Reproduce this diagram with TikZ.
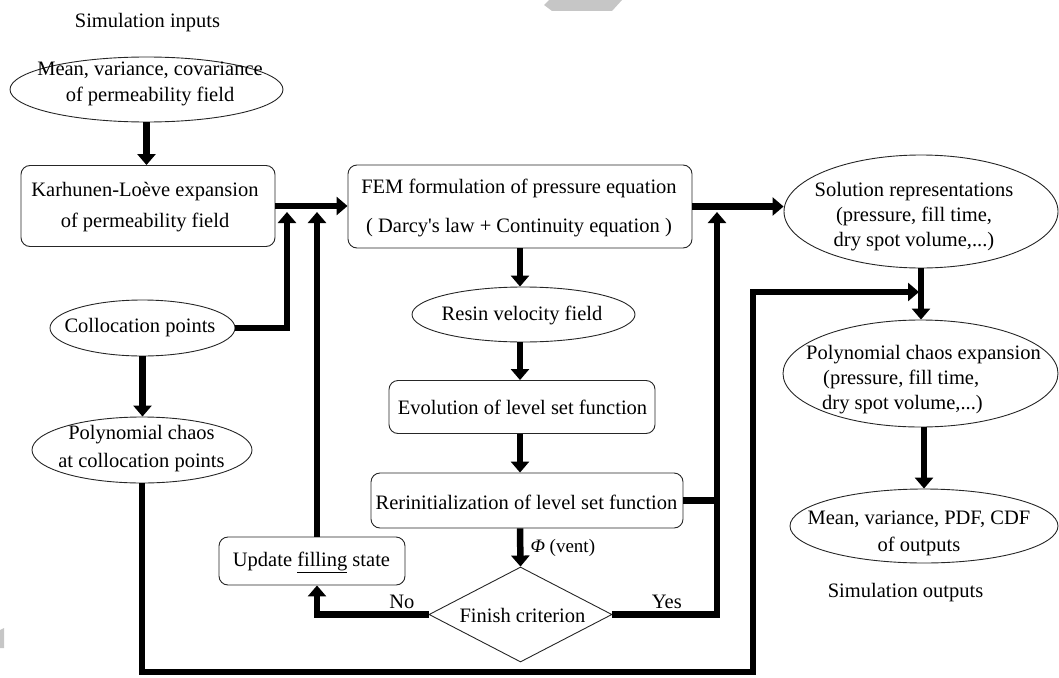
\documentclass[tikz,border=0pt]{standalone}
\usepackage{fontspec}
\setmainfont{Liberation Serif}
\usetikzlibrary{shapes.geometric,arrows.meta}
\begin{document}
\begin{tikzpicture}[x=1pt,y=-1pt,
  every node/.style={font=\fontsize{20.5}{25}\selectfont, inner sep=0pt, align=center},
  shp/.style={draw=black!85, line width=0.9pt},
  rbox/.style={shp, rectangle, rounded corners=9pt},
  ell/.style={shp, ellipse},
  dmd/.style={shp, diamond},
  arr/.style={line width=6.5pt, line join=miter, -{Triangle[width=18pt,length=11pt]}},
  lnk/.style={line width=6.5pt, line join=miter},
]
\useasboundingbox (0,0) rectangle (1059,677);
% watermark fragments
\fill[gray!45] (549,0) -- (622,0) -- (612,11) -- (552,11) -- (544,5) -- cycle;
\fill[gray!45] (0,630) -- (4,628) -- (4,648) -- (0,648) -- cycle;

% left column
\node (simin) at (147.5,23) {Simulation inputs};
\node[ell, minimum width=273pt, minimum height=65pt] (mean) at (146.5,89.5) {};
\node (meant) at (150,84) {Mean, variance, covariance\\[1pt]of permeability field};
\node[rbox, minimum width=254pt, minimum height=81pt] (kl) at (148,206) {};
\node (klt) at (145,207.5) {Karhunen-Lo\`eve expansion\\[6pt]of permeability field};
\node[ell, minimum width=185pt, minimum height=56pt] (colloc) at (142.5,328) {};
\node (collt) at (140,328) {Collocation points};
\node[ell, minimum width=220pt, minimum height=66pt] (pcc) at (142,450) {};
\node (pcct) at (141.5,449) {Polynomial chaos\\[3pt]at collocation points};

% middle column
\node[rbox, minimum width=344pt, minimum height=83pt] (fem) at (520,206.5) {};
\node (femt) at (519,207.5) {FEM formulation of pressure equation\\[14pt]( Darcy\textquotesingle s law + Continuity equation )};
\node[ell, minimum width=223pt, minimum height=55pt] (resin) at (523.5,314.5) {};
\node (resint) at (522,315) {Resin velocity field};
\node[rbox, minimum width=266pt, minimum height=53pt] (evol) at (522,407) {};
\node (evolt) at (522.5,407) {Evolution of level set function};
\node[rbox, minimum width=312pt, minimum height=55pt] (rerinit) at (527,500.5) {};
\node (rerinitt) at (526.5,502) {Rerinitialization of level set function};
\node[rbox, minimum width=186pt, minimum height=48pt] (update) at (312,561) {};
\node (updatet) at (311.5,562) {Update \underline{filling} state};
\node[dmd, minimum width=183pt, minimum height=95pt] (finish) at (520.5,614.5) {};
\node (finisht) at (522.5,615) {Finish criterion};

% right column
\node[ell, minimum width=274pt, minimum height=113pt] (sol) at (921,211.5) {};
\node (solt) at (914,217) {Solution representations\\(pressure, fill time,\\dry spot volume,...)};
\node[ell, minimum width=275pt, minimum height=107pt] (pce) at (920.5,373.5) {};
\node[align=left, anchor=west] (pcet) at (806,380) {Polynomial chaos expansion\\\hspace*{17pt}(pressure, fill time,\\\hspace*{16pt}dry spot volume,...)};
\node[ell, minimum width=268pt, minimum height=74pt] (mpdf) at (924,526) {};
\node (mpdft) at (919,533.5) {Mean, variance, PDF, CDF\\[2pt]of outputs};
\node (simout) at (905.5,593) {Simulation outputs};

% junction coordinates
\coordinate (c1) at (287,212);
\coordinate (c2) at (317,212);
\coordinate (c3) at (717,212);
\coordinate (b1) at (753,672);
\coordinate (b2) at (919,292);

% connectors
\draw[arr] (mean.south) -- (mean.south |- kl.north);
\draw[arr] (kl.east) -- (kl.east -| fem.west);
\draw[arr] (colloc.east) -| (c1);
\draw[arr] (update.north -| c2) -- (c2);
\draw[arr] (colloc.south) -- (colloc.south |- pcc.north);
\draw[arr] (fem.south) -- (fem.south |- resin.north);
\draw[arr] (fem.south |- resin.south) -- (fem.south |- evol.north);
\draw[arr] (fem.south |- evol.south) -- (fem.south |- rerinit.north);
\draw[arr] (fem.south |- rerinit.south) -- node[right=7pt, font=\fontsize{19}{23}\selectfont] (phi) {{\itshape Φ} (vent)} (finish.north);
\draw[arr] (finish.west) -| node[pos=0.12, above=3pt] (lno) {No} (c2 |- update.south);
\draw[arr] (finish.east) -| node[pos=0.26, above=3pt] (lyes) {Yes} (c3);
\draw[lnk] (rerinit.east) -- (rerinit.east -| c3);
\draw[arr] (fem.east) -- (fem.east -| sol.west);
\draw[arr] (sol.south) -- (sol.south |- pce.north);
\draw[arr] (pcc.south) |- (b1) |- (b2);
\draw[arr] (mpdf.north |- pce.south) -- (mpdf.north);
\end{tikzpicture}
\end{document}
